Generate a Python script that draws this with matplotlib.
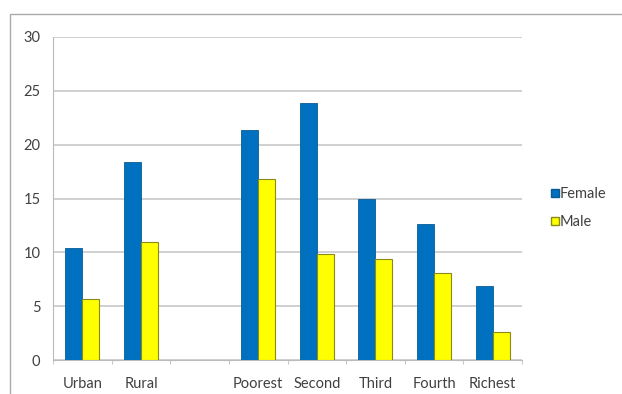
import matplotlib
matplotlib.use("Agg")
import matplotlib.pyplot as plt
import numpy as np
from matplotlib.patches import Rectangle
from matplotlib.lines import Line2D

categories = ["Urban", "Rural", "", "Poorest", "Second", "Third", "Fourth", "Richest"]
female = [10.4, 18.4, None, 21.4, 23.9, 15.0, 12.6, 6.9]
male = [5.7, 11.0, None, 16.8, 9.8, 9.4, 8.1, 2.6]
yticks = [0, 5, 10, 15, 20, 25, 30]

plt.rcParams['font.family'] = ['Lato', 'DejaVu Sans']

fig = plt.figure(figsize=(6.22, 3.94), dpi=100)
ax = fig.add_axes([53/622, 1-360/394, (522-53)/622, (360-37)/394])

x = np.arange(len(categories))
w = 0.29
fv = [v if v is not None else 0 for v in female]
mv = [v if v is not None else 0 for v in male]
fmask = [v is not None for v in female]
xf = x[fmask] - w/2
xm = x[fmask] + w/2
ax.bar(xf, np.array(fv)[fmask], width=w, color="#0070C0", edgecolor="#0a5a94", linewidth=0.6, label="Female", zorder=3)
ax.bar(xm, np.array(mv)[fmask], width=w, color="#FFFF00", edgecolor="#8a8a1a", linewidth=0.8, label="Male", zorder=3)

ax.set_xlim(-0.5, len(categories) - 0.5)
ax.set_ylim(0, 30)
ax.set_yticks(yticks)
ax.set_yticklabels([str(t) for t in yticks], fontsize=10.5, color="#404040")
ax.set_xticks(x)
ax.set_xticklabels(categories, fontsize=10.5, color="#404040")
ax.set_xticks(np.arange(-0.5, len(categories), 1), minor=True)
ax.tick_params(axis='x', which='major', length=0, pad=12)
ax.tick_params(axis='x', which='minor', length=3, color="#bbbbbb", direction='out')
ax.tick_params(axis='y', length=0, pad=9)
ax.yaxis.grid(True, color="#c8c8c8", linewidth=1.2, zorder=0)
ax.set_axisbelow(True)
for s in ['top', 'right']:
    ax.spines[s].set_visible(False)
ax.spines['left'].set_color("#bbbbbb")
ax.spines['bottom'].set_color("#bbbbbb")

handles = [Line2D([], [], marker='s', linestyle='none', markersize=6, markerfacecolor="#0070C0", markeredgecolor="#0a5a94"),
           Line2D([], [], marker='s', linestyle='none', markersize=6, markerfacecolor="#FFFF00", markeredgecolor="#8a8a1a")]
fig.legend(handles, ["Female", "Male"], loc='center left', bbox_to_anchor=(538/622, 1-208/394),
           frameon=False, fontsize=10.5, handlelength=0.5, handletextpad=0.1, labelspacing=1.0, labelcolor="#404040")

fig.patches.append(Rectangle((10/622, -0.1), 1.2, 1.1-14/394, transform=fig.transFigure, fill=False,
                             edgecolor="#aaaaaa", linewidth=1.0))

fig.savefig("out.png", dpi=100)
